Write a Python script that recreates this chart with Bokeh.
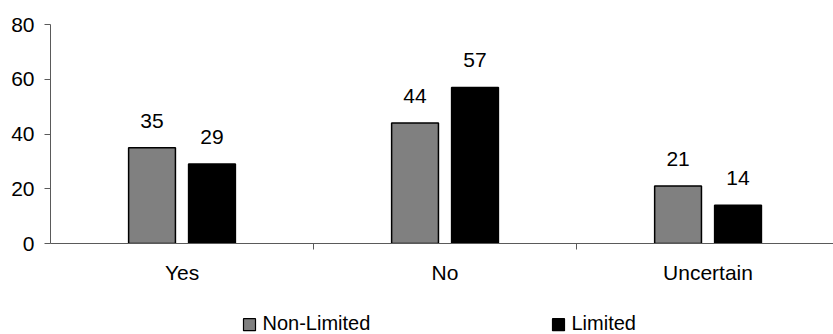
from bokeh.plotting import figure
from bokeh.layouts import column
from bokeh.models import ColumnDataSource, Range1d, FixedTicker, LinearAxis
from bokeh.core.properties import value
from bokeh.embed import file_html
from bokeh.resources import INLINE

# Survey responses (percent) by group
categories = ["Yes", "No", "Uncertain"]
non_limited = [35, 44, 21]
limited = [29, 57, 14]
series_names = ["Non-Limited", "Limited"]
y_ticks = [0, 20, 40, 60, 80]

FONT = "Liberation Sans"
AXIS_COLOR = "#5a5a5a"
GRAY = "#808080"
series_colors = [GRAY, "black"]
TEXT_SIZE = "21px"

n = len(categories)
centers = [i + 0.5 for i in range(n)]
offset = 0.114
bar_w = 0.178

src_nl = ColumnDataSource(dict(
    x=[c - offset for c in centers], top=non_limited,
    label=[str(v) for v in non_limited]))
src_l = ColumnDataSource(dict(
    x=[c + offset for c in centers], top=limited,
    label=[str(v) for v in limited]))

p = figure(width=833, height=290, output_backend="svg", toolbar_location=None,
           x_range=Range1d(0, 2.977), y_range=Range1d(0, 80),
           min_border_left=50, min_border_right=0, min_border_top=24,
           min_border_bottom=47, x_axis_location=None, y_axis_location=None)
p.outline_line_color = None
p.grid.visible = False
p.background_fill_color = "white"
p.border_fill_color = "white"

# value axis
yax = LinearAxis(ticker=FixedTicker(ticks=y_ticks, minor_ticks=[]))
yax.axis_line_color = AXIS_COLOR
yax.major_tick_line_color = AXIS_COLOR
yax.major_tick_out = 6
yax.major_tick_in = 0
yax.major_label_standoff = 10
yax.major_label_text_font = FONT
yax.major_label_text_font_size = TEXT_SIZE
yax.major_label_text_color = "black"
p.add_layout(yax, "left")

# category axis: labels at centers, tick marks at category boundaries
xax = LinearAxis(ticker=FixedTicker(ticks=centers, minor_ticks=[1, 2, 3]))
xax.major_label_overrides = {c: name for c, name in zip(centers, categories)}
xax.axis_line_color = AXIS_COLOR
xax.major_tick_line_color = None
xax.minor_tick_line_color = AXIS_COLOR
xax.minor_tick_out = 6
xax.minor_tick_in = 0
xax.major_tick_out = 6
xax.major_tick_in = 0
xax.major_label_standoff = 11
xax.major_label_text_font = FONT
xax.major_label_text_font_size = TEXT_SIZE
xax.major_label_text_color = "black"
p.add_layout(xax, "below")

p.vbar(x="x", top="top", width=bar_w, bottom=0, source=src_nl,
       fill_color=GRAY, line_color="black", line_width=1.5)
p.vbar(x="x", top="top", width=bar_w, bottom=0, source=src_l,
       fill_color="black", line_color="black", line_width=1.5)

# value labels above each bar
for src in (src_nl, src_l):
    p.text(x="x", y="top", text="label", source=src, text_align="center",
           text_baseline="middle", y_offset=-27,
           text_font=value(FONT), text_font_size=value(TEXT_SIZE),
           text_color="black")

# legend strip underneath the chart; its frame lines up with the chart frame,
# so the x range is given in page pixels from 50 to 833
leg_fig = figure(width=833, height=44, output_backend="svg", toolbar_location=None,
                 x_range=Range1d(50, 833), y_range=Range1d(0, 44),
                 min_border=0, x_axis_location=None, y_axis_location=None)
leg_fig.outline_line_color = None
leg_fig.grid.visible = False
leg_fig.border_fill_color = "white"

key_left = [243, 552]
key_size = 12
leg_src = ColumnDataSource(dict(
    kx=[x + key_size / 2 for x in key_left],
    ky=[9.8, 9.8],
    tx=[x + key_size + 7 for x in key_left],
    ty=[11.8, 11.8],
    name=series_names,
    color=series_colors))
leg_fig.rect(x="kx", y="ky", width=key_size, height=key_size, source=leg_src,
             fill_color="color", line_color="black", line_width=1.2)
leg_fig.text(x="tx", y="ty", text="name", source=leg_src,
             text_align="left", text_baseline="middle",
             text_font=value(FONT), text_font_size=value("20px"),
             text_color="black")

layout = column(p, leg_fig, spacing=0)
open("out.html", "w").write(file_html(layout, INLINE))
